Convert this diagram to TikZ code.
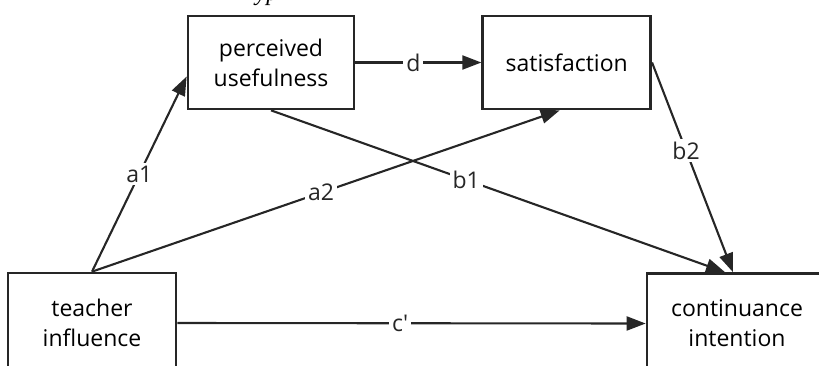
\documentclass[tikz,border=0pt]{standalone}
\usepackage{fontspec}
\setmainfont{Open Sans}
\newfontfamily\capfont{Liberation Serif}
\usetikzlibrary{arrows.meta, positioning}

\begin{document}
\begin{tikzpicture}[
    x=0.5pt, y=-0.5pt,
    varbox/.style={rectangle, draw=black!85, line width=1.35pt, minimum height=46.5pt, inner sep=0pt, align=center, font=\fontsize{11.5}{15}\selectfont},
    arrow/.style={-{Triangle[length=9.5pt, width=7pt]}, line width=1.05pt, black!85},
    coef/.style={fill=white, inner sep=1.5pt, font=\fontsize{11.5}{14}\selectfont}
]
\clip (0,0) rectangle (819,365);

% Caption line above, cut off
\node[anchor=base, inner sep=0pt, font=\capfont\itshape\fontsize{12}{14}\selectfont] (cap) at (267,0) {yp};

% Variables
\node[varbox, minimum width=83pt] (pu) at (271,62.5) {perceived\\usefulness};
\node[varbox, minimum width=84pt, right=63pt of pu] (sat) {satisfaction};
\node[varbox, minimum width=84pt, minimum height=50pt] (ti) at (92,323) {teacher\\influence};
\node[varbox, minimum width=90pt, minimum height=50pt] (ci) at (737,323.5) {continuance\\intention};

% Paths
\draw[arrow] (ti.north) -- node[coef, pos=0.5] (la1) {a1} ([yshift=-7pt]pu.west);
\draw[arrow] (ti.north) -- node[coef, pos=0.49] (la2) {a2} ([xshift=-3.5pt]sat.south);
\draw[arrow] (pu.east) -- node[coef, pos=0.46] (ld) {d} (sat.west);
\draw[arrow] (pu.south) -- node[coef, pos=0.43] (lb1) {b1} ([xshift=-6pt]ci.north);
\draw[arrow] (sat.east) -- node[coef, pos=0.42] (lb2) {b2} ([xshift=-2pt]ci.north);
\draw[arrow] (ti.east) -- node[coef, pos=0.476] (lc) {c\textquotesingle} (ci.west);

\end{tikzpicture}
\end{document}
